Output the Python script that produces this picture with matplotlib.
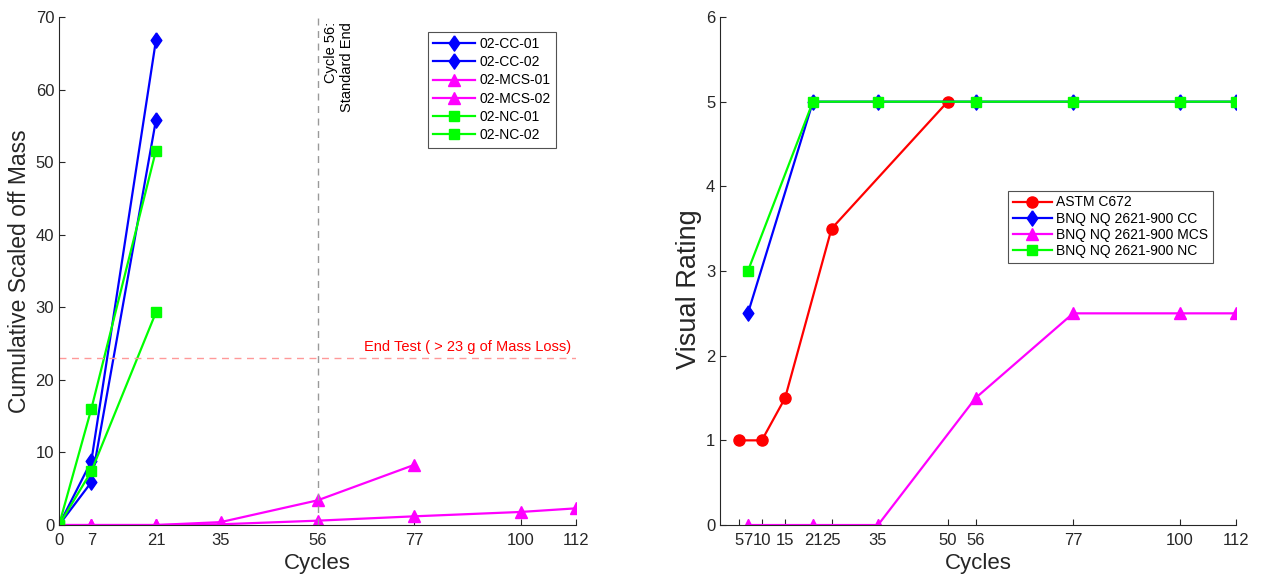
import matplotlib.pyplot as plt

plt.rcParams['font.family'] = ['Liberation Sans', 'DejaVu Sans']

# ===== left panel: cumulative scaled-off mass =====
mass_cycles_cc = [0, 7, 21]
cc_01 = [0, 8.8, 66.8]
cc_02 = [0, 5.9, 55.8]
mcs_cycles_01 = [0, 7, 21, 35, 56, 77]
mcs_01 = [0, 0, 0, 0.4, 3.4, 8.3]
mcs_cycles_02 = [0, 7, 21, 35, 56, 77, 100, 112]
mcs_02 = [0, 0, 0, 0.1, 0.6, 1.2, 1.8, 2.3]
mass_cycles_nc = [0, 7, 21]
nc_01 = [0, 16.0, 51.6]
nc_02 = [0, 7.4, 29.3]
left_xticks = [0, 7, 21, 35, 56, 77, 100, 112]

# ===== right panel: visual rating =====
astm_cycles = [5, 10, 15, 25, 50]
astm_rating = [1, 1, 1.5, 3.5, 5]
bnq_cycles = [7, 21, 35, 56, 77, 100, 112]
bnq_cc = [2.5, 5, 5, 5, 5, 5, 5]
bnq_mcs = [0, 0, 0, 1.5, 2.5, 2.5, 2.5]
bnq_nc = [3, 5, 5, 5, 5, 5, 5]
right_xticks = [5, 7, 10, 15, 21, 25, 35, 50, 56, 77, 100, 112]

BLUE = (0, 0, 1)
MAG = (1, 0, 1)
GREEN = (0, 1, 0)
RED = (1, 0, 0)
AXC = (0.15, 0.15, 0.15)

# matlab-like diamond (a bit wider than matplotlib's thin 'd')
DIAM = [(0, 1), (0.7, 0), (0, -1), (-0.7, 0), (0, 1)]

fig = plt.figure(figsize=(12.61, 5.76), dpi=100)
ax1 = fig.add_axes([0.0468, 0.0885, 0.410, 0.882])
ax2 = fig.add_axes([0.571, 0.0885, 0.409, 0.882])

lw = 1.6
st_cc = dict(marker=DIAM, color=BLUE, lw=lw, ms=11)
st_mcs = dict(marker='^', color=MAG, lw=lw, ms=8)
st_nc = dict(marker='s', color=GREEN, lw=lw, ms=7)

ax1.plot(mass_cycles_cc, cc_01, label='02-CC-01', **st_cc)
ax1.plot(mass_cycles_cc, cc_02, label='02-CC-02', **st_cc)
ax1.plot(mcs_cycles_01, mcs_01, label='02-MCS-01', **st_mcs)
ax1.plot(mcs_cycles_02, mcs_02, label='02-MCS-02', **st_mcs)
ax1.plot(mass_cycles_nc, nc_01, label='02-NC-01', **st_nc)
ax1.plot(mass_cycles_nc, nc_02, label='02-NC-02', **st_nc)

ax1.axvline(56, color=(0.6, 0.6, 0.6), ls=(0, (5, 4)), lw=1)
ax1.axhline(23, color=(1, 0.6, 0.6), ls=(0, (5, 4)), lw=1)
ax1.text(57.4, 69.3, 'Cycle 56:\nStandard End', rotation=90, ha='left', va='top',
         multialignment='right', fontsize=10.5, color='black')
ax1.text(111, 23.6, 'End Test ( > 23 g of Mass Loss)', ha='right', va='bottom',
         fontsize=10.5, color=RED)

ax1.set_xlim(0, 112)
ax1.set_ylim(0, 70)
ax1.set_xticks(left_xticks)
ax1.set_yticks(range(0, 71, 10))
ax1.set_xlabel('Cycles', fontsize=16, color=AXC, labelpad=3)
ax1.set_ylabel('Cumulative Scaled off Mass', fontsize=16.5, color=AXC, labelpad=3)
ax1.legend(loc='upper left', bbox_to_anchor=(0.70, 0.985), fontsize=10,
           frameon=True, fancybox=False, edgecolor=AXC, borderpad=0.4,
           labelspacing=0.3, handlelength=3.0, handletextpad=0.3)

ax2.plot(astm_cycles, astm_rating, marker='o', color=RED, lw=lw, ms=8, label='ASTM C672')
ax2.plot(bnq_cycles, bnq_cc, label='BNQ NQ 2621-900 CC', **st_cc)
ax2.plot(bnq_cycles, bnq_mcs, label='BNQ NQ 2621-900 MCS', **st_mcs)
ax2.plot(bnq_cycles, bnq_nc, label='BNQ NQ 2621-900 NC', **st_nc)

ax2.set_xlim(1, 112)
ax2.set_ylim(0, 6)
ax2.set_xticks(right_xticks)
ax2.set_xticklabels([str(t) for t in right_xticks])
ax2.set_yticks(range(0, 7))
ax2.set_xlabel('Cycles', fontsize=16, color=AXC, labelpad=3)
ax2.set_ylabel('Visual Rating', fontsize=19.5, color=AXC)
ax2.yaxis.set_label_coords(-0.034, 0.465)
ax2.legend(loc='upper left', bbox_to_anchor=(0.545, 0.672), fontsize=10,
           frameon=True, fancybox=False, edgecolor=AXC, borderpad=0.35,
           labelspacing=0.15, handlelength=2.8, handletextpad=0.3)

for ax in (ax1, ax2):
    ax.spines['top'].set_visible(False)
    ax.spines['right'].set_visible(False)
    ax.spines['left'].set_color(AXC)
    ax.spines['bottom'].set_color(AXC)
    ax.tick_params(direction='in', length=4, colors=AXC, labelsize=12, width=0.8)
    ax.tick_params(axis='x', pad=6)
    ax.legend_.get_frame().set_linewidth(0.8)

fig.savefig('out.png', dpi=100)
